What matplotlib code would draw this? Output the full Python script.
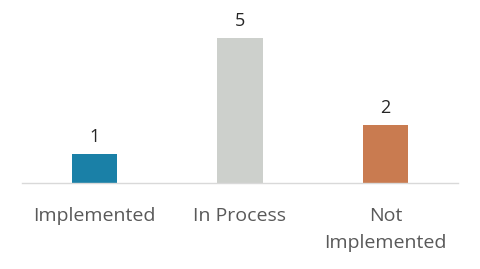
import matplotlib.pyplot as plt

categories = ["Implemented", "In Process", "Not\nImplemented"]
values = [1, 5, 2]
colors = ["#1a80a7", "#cdd0cc", "#c97b50"]

plt.rcParams['font.family'] = ['Open Sans', 'DejaVu Sans']

fig = plt.figure(figsize=(4.8, 2.69), dpi=100)
ax = fig.add_axes([22 / 480, 1 - 183 / 269, 436 / 480, 174 / 269])
x = range(len(categories))
ax.bar(x, values, width=0.31, color=colors)
for xi, v in zip(x, values):
    ax.text(xi, v + 0.27, str(v), ha='center', va='bottom', fontsize=13, color='#262626')

ax.set_xlim(-0.5, 2.5)
ax.set_ylim(0, 6)
ax.set_xticks(list(x))
ax.set_xticklabels(categories, fontsize=14, color='#595959', linespacing=1.65, va='top')
ax.tick_params(axis='x', length=0, pad=17)
ax.set_yticks([])
for s in ['top', 'right', 'left']:
    ax.spines[s].set_visible(False)
ax.spines['bottom'].set_color('#d9d9d9')
ax.spines['bottom'].set_linewidth(1)

fig.savefig("out.png", dpi=100)
